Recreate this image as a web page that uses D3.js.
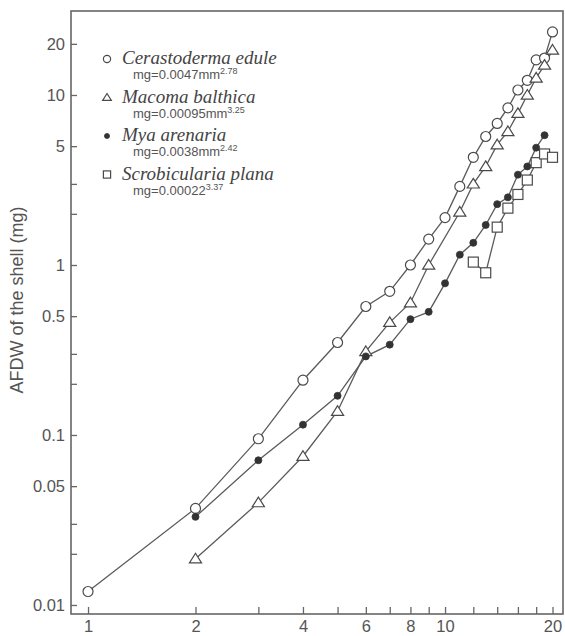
<!DOCTYPE html>
<html>
<head>
<meta charset="utf-8">
<script src="https://cdn.jsdelivr.net/npm/d3@7"></script>
<style>
  html, body { margin: 0; padding: 0; background: #fff; }
  svg { display: block; }
</style>
</head>
<body>
<svg id="chart" width="565" height="636"></svg>
<script>
// Shell length (mm) and ash-free dry weight of the shell (mg) for four bivalves
const cerastodermaLength = [1, 2, 3, 4, 5, 6, 7, 8, 9, 10, 11, 12, 13, 14, 15, 16, 17, 18, 19, 20];
const cerastodermaAFDW   = [0.012, 0.037, 0.095, 0.21, 0.35, 0.57, 0.70, 1.0, 1.42, 1.9, 2.9, 4.3, 5.7, 6.8, 8.4, 10.7, 12.2, 16.1, 16.5, 23.5];

const macomaLength = [2, 3, 4, 5, 6, 7, 8, 9, 11, 12, 13, 14, 15, 16, 17, 18, 19, 20];
const macomaAFDW   = [0.0187, 0.040, 0.075, 0.138, 0.31, 0.46, 0.60, 1.0, 2.05, 3.0, 3.8, 5.1, 6.1, 7.8, 10.0, 12.6, 15.0, 18.4];

const myaLength = [2, 3, 4, 5, 6, 7, 8, 9, 10, 11, 12, 13, 14, 15, 16, 17, 18, 19];
const myaAFDW   = [0.033, 0.071, 0.115, 0.17, 0.29, 0.34, 0.48, 0.53, 0.78, 1.15, 1.35, 1.72, 2.28, 2.5, 3.4, 3.8, 4.9, 5.8];

const scrobiculariaLength = [12, 13, 14, 15, 16, 17, 18, 19, 20];
const scrobiculariaAFDW   = [1.04, 0.90, 1.67, 2.16, 2.6, 3.16, 4.0, 4.5, 4.3];

// Legend text: species name, fitted equation and its exponent
const speciesNames = ["Cerastoderma edule", "Macoma balthica", "Mya arenaria", "Scrobicularia plana"];
const equationBase = ["mg=0.0047mm", "mg=0.00095mm", "mg=0.0038mm", "mg=0.00022"];
const equationExp  = ["2.78", "3.25", "2.42", "3.37"];
const markerKinds  = ["circle", "triangle", "dot", "square"];

// Axis ticks
const xTicks = [1, 2, 3, 4, 5, 6, 7, 8, 9, 10, 12, 14, 16, 18, 20];
const xTickLabels = [1, 2, 4, 6, 8, 10, 20];
const yTicks = [0.01, 0.02, 0.03, 0.05, 0.1, 0.2, 0.3, 0.5, 1, 2, 3, 5, 10, 20];
const yTickLabels = [0.01, 0.05, 0.1, 0.5, 1, 5, 10, 20];

const series = [
  { x: cerastodermaLength, y: cerastodermaAFDW, kind: markerKinds[0] },
  { x: macomaLength, y: macomaAFDW, kind: markerKinds[1] },
  { x: myaLength, y: myaAFDW, kind: markerKinds[2] },
  { x: scrobiculariaLength, y: scrobiculariaAFDW, kind: markerKinds[3] }
];

const svg = d3.select("#chart");
const frame = { left: 71, top: 11, right: 563, bottom: 614 };

const x = d3.scaleLog().domain([0.896, 21.4]).range([frame.left, frame.right]);
const y = d3.scaleLog().domain([0.00885, 31.2]).range([frame.bottom, frame.top]);

const axisColor = "#666";
const lineColor = "#5a5a5a";
const markColor = "#4a4a4a";
const textColor = "#555";
const sansFont = "'Liberation Sans', Arial, sans-serif";

// plot frame
svg.append("rect")
  .attr("x", frame.left).attr("y", frame.top)
  .attr("width", frame.right - frame.left).attr("height", frame.bottom - frame.top)
  .attr("fill", "none").attr("stroke", axisColor).attr("stroke-width", 1.6);

// bottom axis: inward ticks, labels only on selected values
const xAxis = d3.axisBottom(x)
  .tickValues(xTicks)
  .tickSizeInner(-7).tickSizeOuter(0)
  .tickPadding(6)
  .tickFormat(d => xTickLabels.includes(d) ? d3.format("")(d) : "");
const gx = svg.append("g").attr("transform", `translate(0,${frame.bottom})`).call(xAxis);

// left axis
const yAxis = d3.axisLeft(y)
  .tickValues(yTicks)
  .tickSizeInner(-6).tickSizeOuter(0)
  .tickPadding(6)
  .tickFormat(d => yTickLabels.includes(d) ? String(d) : "");
const gy = svg.append("g").attr("transform", `translate(${frame.left},0)`).call(yAxis);

[gx, gy].forEach(g => {
  g.select(".domain").remove();
  g.selectAll(".tick line").attr("stroke", axisColor).attr("stroke-width", 1.3);
  g.selectAll(".tick text")
    .attr("fill", textColor)
    .style("font-family", sansFont)
    .style("font-size", "16.5px");
});

// y axis title
svg.append("text")
  .attr("transform", "translate(23,300) rotate(-90)")
  .attr("text-anchor", "middle")
  .attr("fill", textColor)
  .style("font-family", sansFont)
  .style("font-size", "18px")
  .text("AFDW of the shell (mg)");

// marker shapes
function drawMarker(g, kind, size) {
  if (kind === "circle") {
    g.append("circle").attr("r", size).attr("fill", "#fff").attr("stroke", markColor).attr("stroke-width", 1.2);
  } else if (kind === "dot") {
    g.append("circle").attr("r", size * 0.7).attr("fill", "#333").attr("stroke", "#333").attr("stroke-width", 0.8);
  } else if (kind === "square") {
    g.append("rect").attr("x", -size).attr("y", -size).attr("width", 2 * size).attr("height", 2 * size)
      .attr("fill", "#fff").attr("stroke", markColor).attr("stroke-width", 1.2);
  } else {
    const h = size * 1.1;
    g.append("path")
      .attr("d", `M0,${-h} L${h * 1.1},${h * 0.75} L${-h * 1.1},${h * 0.75} Z`)
      .attr("fill", "#fff").attr("stroke", markColor).attr("stroke-width", 1.2);
  }
}

const line = d3.line().x(d => x(d[0])).y(d => y(d[1]));

series.forEach(s => {
  const pts = s.x.map((v, i) => [v, s.y[i]]);
  svg.append("path")
    .attr("d", line(pts))
    .attr("fill", "none").attr("stroke", lineColor).attr("stroke-width", 1.3);
});
series.forEach(s => {
  const pts = s.x.map((v, i) => [v, s.y[i]]);
  pts.forEach(p => {
    const g = svg.append("g").attr("transform", `translate(${x(p[0])},${y(p[1])})`);
    drawMarker(g, s.kind, 5);
  });
});

// legend
const legend = svg.append("g");
speciesNames.forEach((name, i) => {
  const top = 59 + i * 38.5;
  const m = legend.append("g").attr("transform", `translate(107,${top})`);
  drawMarker(m, markerKinds[i], 3.6);
  legend.append("text")
    .attr("x", 122).attr("y", top + 5)
    .attr("fill", "#444")
    .style("font-family", "'Liberation Serif', 'Times New Roman', serif")
    .style("font-style", "italic")
    .style("font-size", "19px")
    .text(name);
  const eq = legend.append("text")
    .attr("x", 133).attr("y", top + 20)
    .attr("fill", "#555")
    .style("font-family", sansFont)
    .style("font-size", "13px");
  eq.append("tspan").text(equationBase[i]);
  eq.append("tspan").attr("dy", -5).style("font-size", "9px").text(equationExp[i]);
});
</script>
</body>
</html>
